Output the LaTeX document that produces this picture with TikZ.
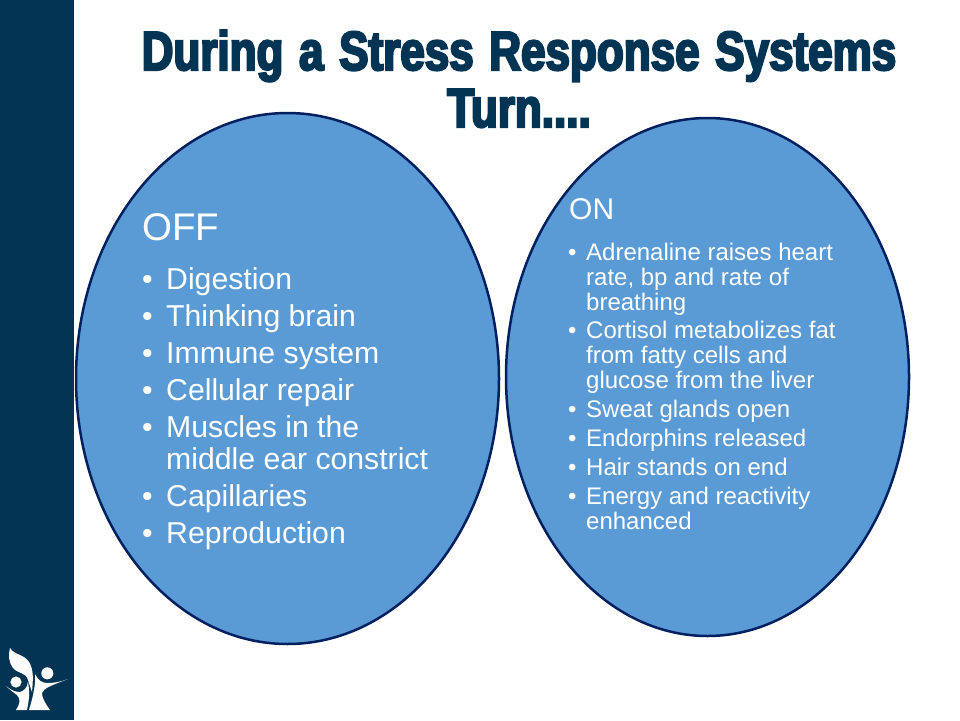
\documentclass[tikz,border=0pt]{standalone}
\usepackage{fontspec}
\setmainfont{Liberation Sans}
\newfontfamily\titlefont[FakeBold=4,FakeStretch=0.80,WordSpace=1.28]{Liberation Sans Bold}
\definecolor{navy}{HTML}{033453}
\definecolor{blobfill}{HTML}{5B9BD5}
\definecolor{blobline}{HTML}{002060}
\tikzset{
  titleline/.style={inner sep=0pt,anchor=base,text=navy,font=\titlefont\fontsize{55}{55}\selectfont},
  blob/.style={draw=blobline,line width=2.5pt,fill=blobfill},
  headl/.style={inner sep=0pt,anchor=base west,text=white,font=\fontsize{38.5}{38.5}\selectfont},
  headr/.style={inner sep=0pt,anchor=base west,text=white,font=\fontsize{30}{30}\selectfont},
  bigt/.style={inner sep=0pt,anchor=base west,text=white,font=\fontsize{30.2}{30.2}\selectfont},
  smallt/.style={inner sep=0pt,anchor=base west,text=white,font=\fontsize{24}{24}\selectfont},
}
\begin{document}
\begin{tikzpicture}[x=1pt,y=-1pt]
\useasboundingbox (0,0) rectangle (960,720);
\fill[navy] (0,0) rectangle (74,720);
% logo: leaf
\fill[white] (10,648) .. controls (14,655) and (24,654) .. (29,662) .. controls (34,670) and (33,680) .. (32,692) -- (28,680) .. controls (26,672) and (18,674) .. (13,668) .. controls (9,663) and (8,655) .. (10,648) -- cycle;
% logo: heads
\fill[white] (16,682) circle (5.6);
\fill[white] (47.3,673.3) circle (6);
% logo: left figure
\fill[white] (6,686) .. controls (11,690) and (15,692) .. (20,692) .. controls (24,691) and (27,688) .. (28,682) .. controls (30,692) and (29,700) .. (27,710) -- (16,710) .. controls (20,704) and (21,699) .. (17,695) .. controls (13,692) and (9,689) .. (6,686) -- cycle;
% logo: right figure
\fill[white] (68,679) .. controls (60,682) and (54,683) .. (47,683) .. controls (42,683) and (38,680) .. (35,674) .. controls (36,684) and (33,697) .. (29,710) -- (50,710) .. controls (45,703) and (42,698) .. (42,693) .. controls (44,688) and (50,686) .. (68,679) -- cycle;
% ellipses
\draw[blob] (287.5,378.5) ellipse [x radius=211.5,y radius=265.5];
\draw[blob] (707.5,377) ellipse [x radius=201.5,y radius=259];
% title
\node[titleline] (t1) at (519,70) {During a Stress Response Systems};
\node[titleline] (t2) at (519,127) {Turn....};
% left
\node[headl] (off) at (142,240) {OFF};
\node[bigt] (l1) at (166,289) {Digestion};
\node[bigt] (l2) at (166,326) {Thinking brain};
\node[bigt] (l3) at (166,363) {Immune system};
\node[bigt] (l4) at (166,400) {Cellular repair};
\node[bigt] (l5) at (166,437) {Muscles in the};
\node[bigt] (l5b) at (166,469) {middle ear constrict};
\node[bigt] (l6) at (166,506) {Capillaries};
\node[bigt] (l7) at (166,543) {Reproduction};
\foreach \y in {289,326,363,400,437,506,543}{\node[bigt] at (142,\y) {•};}
% right
\node[headr] (on) at (569,219) {ON};
\node[smallt] (r1) at (586,260) {Adrenaline raises heart};
\node[smallt] (r1b) at (586,285) {rate, bp and rate of};
\node[smallt] (r1c) at (586,310) {breathing};
\node[smallt] (r2) at (586,338) {Cortisol metabolizes fat};
\node[smallt] (r2b) at (586,363) {from fatty cells and};
\node[smallt] (r2c) at (586,388) {glucose from the liver};
\node[smallt] (r3) at (586,417) {Sweat glands open};
\node[smallt] (r4) at (586,446) {Endorphins released};
\node[smallt] (r5) at (586,475) {Hair stands on end};
\node[smallt] (r6) at (586,504) {Energy and reactivity};
\node[smallt] (r6b) at (586,529) {enhanced};
\foreach \y in {260,338,417,446,475,504}{\node[smallt] at (568,\y) {•};}
\end{tikzpicture}
\end{document}
